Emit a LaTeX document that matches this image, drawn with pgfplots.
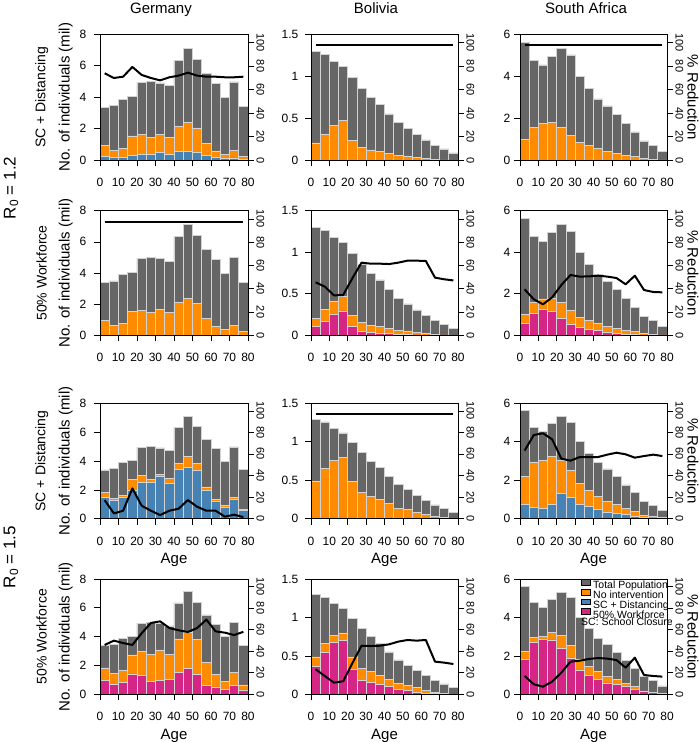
\documentclass[border=0pt]{standalone}
\usepackage{fontspec}
\setmainfont{Liberation Sans}
\usepackage{pgfplots}
\usepackage{pgfplotstable}
\pgfplotsset{compat=1.18}

\definecolor{cgrey}{HTML}{666666}
\definecolor{corange}{HTML}{FF8C00}
\definecolor{cblue}{HTML}{4682B4}
\definecolor{cpink}{HTML}{D62685}
\definecolor{cedge}{HTML}{D3D3D3}

\newcommand{\fs}[1]{\fontsize{#1bp}{#1bp}\selectfont}
\def\nonecol{none}

% ---------------- data (x = age-group centre) ----------------
% R0 = 1.2, SC + Distancing
\pgfplotstableread{
x tot no iv red
2.5 3.38 0.94 0.23 73.9
7.5 3.49 0.64 0.17 69.9
12.5 3.89 0.74 0.19 71.0
17.5 4.04 1.55 0.32 79.3
22.5 4.94 1.62 0.40 72.5
27.5 5.00 1.45 0.38 69.9
32.5 4.91 1.66 0.49 67.9
37.5 4.74 1.45 0.38 70.5
42.5 6.34 2.13 0.55 71.9
47.5 7.11 2.38 0.55 74.4
52.5 6.40 2.06 0.53 71.9
57.5 5.51 1.08 0.30 71.0
62.5 4.87 0.60 0.19 71.0
67.5 4.00 0.38 0.10 70.5
72.5 4.98 0.64 0.15 70.5
77.5 3.40 0.25 0.08 71.0
}\tDEa
\pgfplotstableread{
x tot no iv red
2.5 1.294 0.206 0 97.5
7.5 1.258 0.310 0 97.5
12.5 1.179 0.413 0 97.5
17.5 1.115 0.472 0 97.5
22.5 0.988 0.238 0 97.5
27.5 0.857 0.151 0 97.5
32.5 0.750 0.123 0 97.5
37.5 0.667 0.103 0 97.5
42.5 0.552 0.079 0 97.5
47.5 0.448 0.060 0 97.5
52.5 0.377 0.052 0 97.5
57.5 0.306 0.036 0 97.5
62.5 0.242 0.020 0 97.5
67.5 0.179 0.008 0 97.5
72.5 0.135 0.004 0 97.5
77.5 0.087 0.002 0 97.5
}\tBOa
\pgfplotstableread{
x tot no iv red
2.5 5.62 1.00 0 97.5
7.5 4.76 1.57 0 97.5
12.5 4.54 1.75 0 97.5
17.5 4.95 1.79 0 97.5
22.5 5.32 1.57 0 97.5
27.5 5.02 1.19 0 97.5
32.5 4.00 0.86 0 97.5
37.5 3.41 0.70 0 97.5
42.5 2.92 0.56 0 97.5
47.5 2.59 0.43 0 97.5
52.5 2.19 0.32 0 97.5
57.5 1.76 0.24 0 97.5
62.5 1.35 0.17 0 97.5
67.5 0.92 0.08 0 97.5
72.5 0.71 0.05 0 97.5
77.5 0.44 0.02 0 97.5
}\tSAa
% R0 = 1.2, 50% Workforce
\pgfplotstableread{
x tot no iv red
2.5 3.38 0.94 0 97.5
7.5 3.49 0.64 0 97.5
12.5 3.89 0.74 0 97.5
17.5 4.04 1.55 0 97.5
22.5 4.94 1.62 0 97.5
27.5 5.00 1.45 0 97.5
32.5 4.91 1.66 0 97.5
37.5 4.74 1.45 0 97.5
42.5 6.34 2.13 0 97.5
47.5 7.11 2.38 0 97.5
52.5 6.40 2.06 0 97.5
57.5 5.51 1.08 0 97.5
62.5 4.87 0.60 0 97.5
67.5 4.00 0.38 0 97.5
72.5 4.98 0.64 0 97.5
77.5 3.40 0.25 0 97.5
}\tDEb
\pgfplotstableread{
x tot no iv red
2.5 1.294 0.206 0.104 45.5
7.5 1.258 0.310 0.172 41.8
12.5 1.179 0.413 0.257 34.3
17.5 1.115 0.472 0.293 34.6
22.5 0.988 0.238 0.104 49.0
27.5 0.857 0.151 0.044 62.4
32.5 0.750 0.123 0.032 61.5
37.5 0.667 0.103 0.028 61.5
42.5 0.552 0.079 0.020 61.2
47.5 0.448 0.060 0.012 62.4
52.5 0.377 0.052 0.008 64.1
57.5 0.306 0.036 0.004 64.1
62.5 0.242 0.020 0.002 63.8
67.5 0.179 0.008 0.001 49.5
72.5 0.135 0.004 0 48.1
77.5 0.087 0.002 0 47.1
}\tBOb
\pgfplotstableread{
x tot no iv red
2.5 5.62 1.00 0.58 39.5
7.5 4.76 1.57 1.06 30.9
12.5 4.54 1.75 1.25 26.6
17.5 4.95 1.79 1.16 32.6
22.5 5.32 1.57 0.83 43.2
27.5 5.02 1.19 0.53 51.8
32.5 4.00 0.86 0.39 50.4
37.5 3.41 0.70 0.29 50.6
42.5 2.92 0.56 0.22 51.2
47.5 2.59 0.43 0.16 50.4
52.5 2.19 0.32 0.11 49.2
57.5 1.76 0.24 0.06 43.8
62.5 1.35 0.17 0.03 51.2
67.5 0.92 0.08 0.01 38.9
72.5 0.71 0.05 0 37.2
77.5 0.44 0.02 0 36.9
}\tSAb
% R0 = 1.5, SC + Distancing
\pgfplotstableread{
x tot no iv red
2.5 3.38 1.83 1.48 17.3
7.5 3.49 1.43 1.25 4.9
12.5 3.89 1.64 1.50 7.4
17.5 4.04 2.73 1.99 28.1
22.5 4.94 3.00 2.54 12.1
27.5 5.00 2.75 2.50 7.4
32.5 4.91 3.08 2.91 3.4
37.5 4.74 2.77 2.45 7.4
42.5 6.34 3.84 3.42 9.3
47.5 7.11 4.32 3.56 17.3
52.5 6.40 3.82 3.38 11.1
57.5 5.51 2.20 1.99 7.4
62.5 4.87 1.36 1.18 7.4
67.5 4.00 0.92 0.81 1.9
72.5 4.98 1.50 1.34 3.7
77.5 3.40 0.65 0.55 1.5
}\tDEc
\pgfplotstableread{
x tot no iv red
2.5 1.294 0.486 0 97.5
7.5 1.258 0.659 0 97.5
12.5 1.179 0.763 0 97.5
17.5 1.115 0.798 0 97.5
22.5 0.988 0.486 0 97.5
27.5 0.857 0.342 0 97.5
32.5 0.750 0.295 0 97.5
37.5 0.667 0.251 0 97.5
42.5 0.552 0.199 0 97.5
47.5 0.448 0.139 0 97.5
52.5 0.377 0.121 0 97.5
57.5 0.306 0.087 0 97.5
62.5 0.242 0.052 0 97.5
67.5 0.179 0.026 0 97.5
72.5 0.135 0.013 0 97.5
77.5 0.087 0.004 0 97.5
}\tBOc
\pgfplotstableread{
x tot no iv red
2.5 5.62 2.22 0.76 63.1
7.5 4.76 2.95 0.59 77.6
12.5 4.54 3.03 0.54 79.2
17.5 4.95 3.23 0.76 73.6
22.5 5.32 3.05 1.32 55.7
27.5 5.02 2.53 1.11 53.8
32.5 4.00 1.84 0.75 57.2
37.5 3.41 1.46 0.62 57.2
42.5 2.92 1.18 0.49 57.2
47.5 2.59 0.92 0.35 59.4
52.5 2.19 0.76 0.28 61.2
57.5 1.76 0.55 0.21 59.7
62.5 1.35 0.40 0.14 56.6
67.5 0.92 0.17 0.07 58.1
72.5 0.71 0.10 0.03 59.4
77.5 0.44 0.05 0.02 58.1
}\tSAc
% R0 = 1.5, 50% Workforce
\pgfplotstableread{
x tot no iv red
2.5 3.38 1.83 0.95 45.8
7.5 3.49 1.43 0.67 49.8
12.5 3.89 1.64 0.83 47.6
17.5 4.04 2.73 1.41 45.8
22.5 4.94 3.00 1.29 56.6
27.5 5.00 2.75 0.92 66.2
32.5 4.91 3.08 0.95 67.7
37.5 4.74 2.77 1.02 61.5
42.5 6.34 3.84 1.53 59.4
47.5 7.11 4.32 1.80 57.8
52.5 6.40 3.82 1.39 61.5
57.5 5.51 2.20 0.62 69.3
62.5 4.87 1.36 0.51 58.4
67.5 4.00 0.92 0.32 57.2
72.5 4.98 1.50 0.62 55.0
77.5 3.40 0.65 0.30 58.0
}\tDEd
\pgfplotstableread{
x tot no iv red
2.5 1.294 0.486 0.368 23.2
7.5 1.258 0.659 0.540 17.0
12.5 1.179 0.763 0.670 10.8
17.5 1.115 0.798 0.700 12.1
22.5 0.988 0.486 0.330 28.8
27.5 0.857 0.342 0.178 45.1
32.5 0.750 0.295 0.152 44.8
37.5 0.667 0.251 0.130 45.1
42.5 0.552 0.199 0.100 46.4
47.5 0.448 0.139 0.065 48.9
52.5 0.377 0.121 0.052 50.4
57.5 0.306 0.087 0.030 49.8
62.5 0.242 0.052 0.017 50.4
67.5 0.179 0.026 0.008 30.3
72.5 0.135 0.013 0.004 29.4
77.5 0.087 0.004 0.002 28.1
}\tBOd
\pgfplotstableread{
x tot no iv red
2.5 5.62 2.22 1.80 17.0
7.5 4.76 2.95 2.69 9.3
12.5 4.54 3.03 2.86 7.1
17.5 4.95 3.23 2.83 11.8
22.5 5.32 3.05 2.39 20.1
27.5 5.02 2.53 1.86 30.3
32.5 4.00 1.84 1.27 31.2
37.5 3.41 1.46 0.99 32.8
42.5 2.92 1.18 0.78 33.7
47.5 2.59 0.92 0.59 33.1
52.5 2.19 0.76 0.50 31.8
57.5 1.76 0.55 0.40 24.7
62.5 1.35 0.40 0.26 34.0
67.5 0.92 0.17 0.14 17.9
72.5 0.71 0.10 0.09 17.0
77.5 0.44 0.05 0.05 16.4
}\tSAd

\pgfplotsset{
  panelL/.style={
    scale only axis, anchor=south west,
    xmin=0, xmax=80, ymin=0, axis on top,
    xtick={0,10,...,80}, tick pos=left, tick align=outside,
    major tick length=6bp,
    every tick/.append style={black, line width=0.7bp},
    axis line style={black, line width=0.7bp},
    /pgf/number format/assume math mode=true,
    xticklabel style={font=\fs{12}, anchor=base, inner sep=0pt, yshift=-20.5bp},
    yticklabel style={font=\fs{12}, anchor=east, inner sep=0pt},
  },
  panelR/.style={
    scale only axis, anchor=south west,
    xmin=0, xmax=80, ymin=0, ymax=107,
    hide x axis, axis y line*=right,
    ytick={0,20,...,100}, tick align=outside, major tick length=6bp,
    every tick/.append style={black, line width=0.7bp},
    axis line style={black, line width=0.7bp},
    /pgf/number format/assume math mode=true,
    yticklabel style={font=\fs{11}, anchor=center, inner sep=0pt, xshift=6.5bp, rotate=-90},
  },
  barst/.style={ybar, bar width=5, bar shift=0pt, draw=cedge, line width=0.7bp},
  sq/.style={legend image code/.code={\fill[##1] (0bp,0.3bp) rectangle (8.5bp,6bp);}},
}

\newcommand{\Panel}[9]{%
\begin{axis}[panelL, at={(#1bp,-#2bp)}, width=#3bp, height=#4bp, ymax=#5, ytick={#6},
  yticklabel style={xshift=-#9bp}]
\addplot[barst, fill=cgrey] table[x=x,y=tot]{#7};
\addplot[barst, fill=corange] table[x=x,y=no]{#7};
\def\tmpc{#8}\ifx\tmpc\nonecol\else
\addplot[barst, fill=#8] table[x=x,y=iv]{#7};
\fi
\end{axis}
\begin{axis}[panelR, at={(#1bp,-#2bp)}, width=#3bp, height=#4bp]
\addplot[black, line width=2bp, line join=round] table[x=x,y=red]{#7};
\end{axis}}

\begin{document}
\begin{tikzpicture}
\useasboundingbox (0,0) rectangle (699bp,-742bp);

% row 1
\Panel{100}{160.3}{148}{126}{8}{0,2,4,6,8}{\tDEa}{cblue}{7.5}
\Panel{311}{160.3}{147}{126}{1.5}{0,0.5,1,1.5}{\tBOa}{none}{6.5}
\Panel{520}{160.3}{147}{126}{6}{0,2,4,6}{\tSAa}{none}{3.5}
% row 2
\Panel{100}{335.3}{148}{124.6}{8}{0,2,4,6,8}{\tDEb}{none}{7.5}
\Panel{311}{335.3}{147}{124.6}{1.5}{0,0.5,1,1.5}{\tBOb}{cpink}{6.5}
\Panel{520}{335.3}{147}{124.6}{6}{0,2,4,6}{\tSAb}{cpink}{3.5}
% row 3
\Panel{100}{518.7}{148}{115.4}{8}{0,2,4,6,8}{\tDEc}{cblue}{7.5}
\Panel{311}{518.7}{147}{115.4}{1.5}{0,0.5,1,1.5}{\tBOc}{none}{6.5}
\Panel{520}{518.7}{147}{115.4}{6}{0,2,4,6}{\tSAc}{cblue}{3.5}
% row 4
\Panel{100}{694.3}{148}{115.3}{8}{0,2,4,6,8}{\tDEd}{cpink}{7.5}
\Panel{311}{694.3}{147}{115.3}{1.5}{0,0.5,1,1.5}{\tBOd}{cpink}{6.5}
\Panel{520}{694.3}{147}{115.3}{6}{0,2,4,6}{\tSAd}{cpink}{3.5}

% legend
\begin{axis}[at={(520bp,-694.3bp)}, anchor=south west, scale only axis,
  width=147bp, height=115.3bp, hide axis, xmin=0, xmax=1, ymin=0, ymax=1,
  legend cell align=left,
  legend style={at={(1,1)}, anchor=north east, xshift=6bp, draw=none, fill=none,
    font=\fs{10.5}, inner sep=0pt, row sep=0pt, column sep=3bp,
    nodes={inner sep=0pt, text height=7.1bp, text depth=0pt}}]
\addlegendimage{sq, fill=cgrey}\addlegendentry{Total Population}
\addlegendimage{sq, fill=corange}\addlegendentry{No intervention}
\addlegendimage{sq, fill=cblue}\addlegendentry{SC + Distancing}
\addlegendimage{sq, fill=cpink}\addlegendentry{50\% Workforce}
\addlegendimage{empty legend}\addlegendentry{\hspace*{-12bp}SC: School Closure}
\end{axis}

% column titles
\node[anchor=base, font=\fs{15}] at (161bp,-13.5bp) {Germany};
\node[anchor=base, font=\fs{15}] at (376bp,-13.5bp) {Bolivia};
\node[anchor=base, font=\fs{15}] at (586bp,-13.5bp) {South Africa};

% left labels
\foreach \c/\lab in {97.3/SC + Distancing, 273/50\% Workforce, 461/SC + Distancing, 636.7/50\% Workforce}{
  \node[rotate=90, font=\fs{15}] at (65.7bp,-\c bp) {No. of individuals (mil)};
  \node[rotate=90, font=\fs{14}] at (41.7bp,-\c bp) {\lab};
  \node[rotate=-90, font=\fs{15}] at (693bp,-\c bp) {\% Reduction};
}
\node[rotate=90, font=\fs{17}] at (11bp,-188bp) {R\textsubscript{0} = 1.2};
\node[rotate=90, font=\fs{17}] at (11bp,-557bp) {R\textsubscript{0} = 1.5};

% Age labels
\foreach \xc in {174,384.5,593.5}{
  \node[anchor=base, font=\fs{15}] at (\xc bp,-563.5bp) {Age};
  \node[anchor=base, font=\fs{15}] at (\xc bp,-739bp) {Age};
}
\end{tikzpicture}
\end{document}
